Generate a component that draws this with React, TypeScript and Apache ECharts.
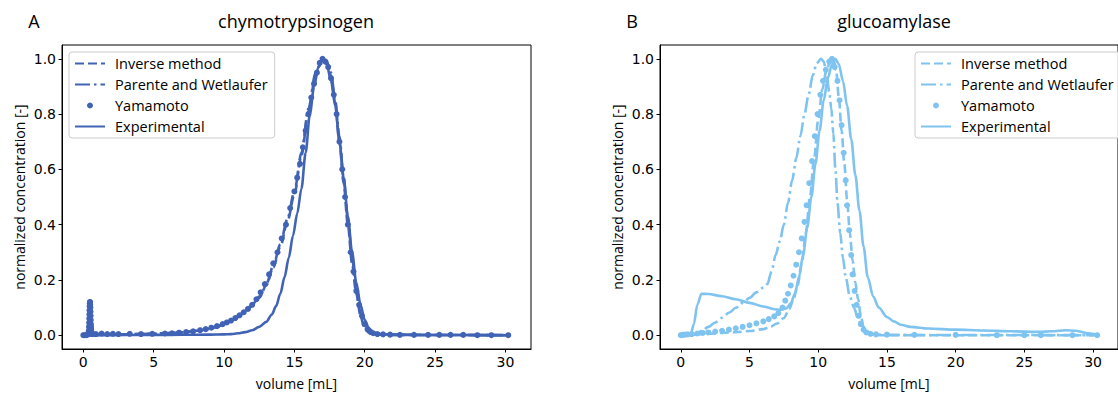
import React, { useEffect, useRef } from "react";
import * as echarts from "echarts";

type Pt = [number, number];

// ---------- Panel A: chymotrypsinogen ----------
const chymoInverse: Pt[] = [
  [0, 0], [1, 0.001], [2, 0.002], [3, 0.003], [4, 0.004], [5, 0.005], [6, 0.007], [7, 0.01], [8, 0.015],
  [9, 0.023], [9.5, 0.03], [10, 0.04], [10.5, 0.052], [11, 0.066], [11.5, 0.084], [12, 0.106], [12.5, 0.135],
  [13, 0.18], [13.5, 0.245], [14, 0.32], [14.5, 0.41], [15, 0.51], [15.5, 0.65], [16, 0.81], [16.5, 0.94],
  [17, 1.0], [17.3, 0.99], [17.6, 0.94], [17.9, 0.84], [18.2, 0.7], [18.5, 0.55], [18.8, 0.4], [19.1, 0.26],
  [19.4, 0.15], [19.7, 0.07], [19.95, 0.03], [20.2, 0.012], [20.5, 0.005], [21, 0.002], [22, 0.001], [30.2, 0],
];
const chymoParente: Pt[] = [
  [0, 0], [1, 0.001], [2, 0.002], [3, 0.003], [4, 0.004], [5, 0.006], [6, 0.008], [7, 0.011], [8, 0.016],
  [9, 0.024], [9.5, 0.031], [10, 0.041], [10.5, 0.054], [11, 0.069], [11.5, 0.088], [12, 0.11], [12.5, 0.14],
  [13, 0.185], [13.5, 0.25], [14, 0.33], [14.5, 0.42], [15, 0.52], [15.5, 0.66], [16, 0.82], [16.5, 0.95],
  [17, 1.0], [17.3, 0.99], [17.6, 0.95], [17.9, 0.85], [18.2, 0.72], [18.5, 0.57], [18.8, 0.42], [19.1, 0.28],
  [19.4, 0.16], [19.7, 0.08], [20.0, 0.035], [20.3, 0.015], [20.6, 0.006], [21, 0.002], [22, 0.001], [30.2, 0],
];
const chymoYamamoto: Pt[] = [
  [0.0, 0.0], [0.1, 0.0], [0.2, 0.0], [0.3, 0.002], [0.38, 0.015], [0.4, 0.03], [0.41, 0.045], [0.42, 0.06],
  [0.43, 0.075], [0.44, 0.09], [0.45, 0.105], [0.46, 0.115], [0.47, 0.12], [0.48, 0.12], [0.49, 0.11],
  [0.5, 0.1], [0.51, 0.085], [0.52, 0.07], [0.53, 0.055], [0.54, 0.04], [0.55, 0.03], [0.56, 0.02],
  [0.58, 0.01], [0.6, 0.005], [0.7, 0.004], [0.9, 0.004],
  [1.3, 0.006], [1.7, 0.004], [2.1, 0.005], [2.5, 0.004], [3.3, 0.005], [4.1, 0.004], [4.9, 0.005], [5.8, 0.006],
  [6.3, 0.007], [6.8, 0.009], [7.3, 0.011], [7.8, 0.014], [8.3, 0.018], [8.7, 0.022], [9.1, 0.027], [9.5, 0.033],
  [9.9, 0.04], [10.2, 0.046], [10.5, 0.053], [10.8, 0.062], [11.1, 0.072], [11.4, 0.083], [11.7, 0.095],
  [12.0, 0.11], [12.3, 0.13], [12.6, 0.155], [12.9, 0.185], [13.2, 0.22], [13.5, 0.26], [13.8, 0.3],
  [14.1, 0.35], [14.4, 0.4], [14.7, 0.46], [15.0, 0.52], [15.2, 0.57], [15.4, 0.62], [15.6, 0.68], [15.8, 0.74],
  [16.0, 0.8], [16.2, 0.86], [16.4, 0.91], [16.6, 0.95], [16.8, 0.985], [17.0, 1.0], [17.2, 0.99], [17.4, 0.97],
  [17.6, 0.93], [17.8, 0.87], [18.0, 0.8], [18.2, 0.7], [18.4, 0.6], [18.6, 0.5], [18.8, 0.4], [19.0, 0.3],
  [19.2, 0.23], [19.4, 0.16], [19.6, 0.11], [19.8, 0.07], [20.0, 0.04], [20.2, 0.022], [20.4, 0.012],
  [20.6, 0.007], [20.9, 0.004], [21.3, 0.003], [21.8, 0.002], [22.5, 0.001], [23.5, 0.001], [24.5, 0.001],
  [25.3, 0.001], [26.1, 0.001], [27.0, 0.001], [28.0, 0], [29.0, 0], [30.2, 0],
];
const chymoExperimental: Pt[] = [
  [0, 0], [1, 0], [3, 0.0005], [5, 0.001], [7, 0.0015], [9, 0.002], [10, 0.003], [10.5, 0.004], [11, 0.007],
  [11.5, 0.011], [12, 0.018], [12.5, 0.03], [13, 0.048], [13.4, 0.075], [13.7, 0.105], [14.0, 0.15], [14.3, 0.21],
  [14.6, 0.28], [14.9, 0.36], [15.2, 0.44], [15.5, 0.53], [15.8, 0.66], [16.1, 0.8], [16.4, 0.9], [16.7, 0.97],
  [17.0, 1.0], [17.3, 0.98], [17.6, 0.92], [17.9, 0.83], [18.2, 0.7], [18.5, 0.57], [18.8, 0.43], [19.1, 0.3],
  [19.4, 0.19], [19.7, 0.11], [20.0, 0.055], [20.3, 0.025], [20.6, 0.01], [21, 0.004], [22, 0.002], [24, 0.001],
  [27, 0.0005], [30.2, 0],
];

// ---------- Panel B: glucoamylase ----------
const glucoInverse: Pt[] = [
  [0, 0], [1, 0.002], [2, 0.005], [3, 0.008], [4, 0.011], [5, 0.015], [6, 0.022], [6.5, 0.03], [7, 0.042],
  [7.5, 0.062], [7.9, 0.095], [8.2, 0.13], [8.5, 0.18], [8.8, 0.26], [9.1, 0.37], [9.4, 0.5], [9.7, 0.64],
  [10.0, 0.78], [10.3, 0.89], [10.6, 0.96], [10.9, 0.995], [11.1, 1.0], [11.3, 0.96], [11.5, 0.86], [11.7, 0.74],
  [11.9, 0.62], [12.1, 0.49], [12.3, 0.37], [12.5, 0.27], [12.7, 0.19], [12.9, 0.13], [13.1, 0.07], [13.3, 0.03],
  [13.5, 0.01], [13.8, 0.002], [14.5, 0], [30.3, 0],
];
const glucoParente: Pt[] = [
  [0, 0], [0.5, 0.001], [1, 0.004], [1.5, 0.015], [2, 0.03], [2.5, 0.046], [3, 0.063], [3.5, 0.081], [4, 0.099],
  [4.5, 0.117], [5, 0.135], [5.5, 0.155], [6, 0.172], [6.3, 0.185], [6.6, 0.23], [6.9, 0.29], [7.2, 0.34],
  [7.5, 0.4], [7.8, 0.48], [8.1, 0.56], [8.4, 0.64], [8.7, 0.72], [9.0, 0.8], [9.3, 0.87], [9.6, 0.94],
  [9.9, 0.985], [10.2, 1.0], [10.4, 0.99], [10.6, 0.95], [10.8, 0.88], [10.95, 0.82], [11.1, 0.73], [11.25, 0.6],
  [11.4, 0.48], [11.6, 0.37], [11.8, 0.28], [12.0, 0.21], [12.3, 0.14], [12.6, 0.1], [12.9, 0.06], [13.2, 0.03],
  [13.5, 0.012], [13.8, 0.004], [15, 0.001], [30.3, 0],
];
const glucoYamamoto: Pt[] = [
  [0, 0], [0.15, 0.001], [0.3, 0.002], [0.5, 0.003], [0.8, 0.004], [1.2, 0.006], [1.6, 0.008], [2.0, 0.01],
  [2.5, 0.013], [3.0, 0.016], [3.5, 0.02], [4.0, 0.025], [4.5, 0.03], [5.0, 0.036], [5.5, 0.043], [6.0, 0.05],
  [6.4, 0.058], [6.8, 0.068], [7.1, 0.08], [7.4, 0.1], [7.6, 0.125], [7.8, 0.15], [8.0, 0.18], [8.2, 0.215],
  [8.4, 0.255], [8.6, 0.3], [8.8, 0.35], [9.0, 0.41], [9.15, 0.47], [9.35, 0.55], [9.55, 0.63], [9.75, 0.72],
  [9.95, 0.8], [10.15, 0.87], [10.35, 0.92], [10.55, 0.96], [10.8, 0.99], [11.0, 1.0], [11.2, 0.97],
  [11.4, 0.92], [11.55, 0.85], [11.7, 0.76], [11.85, 0.66], [12.0, 0.56], [12.1, 0.47], [12.25, 0.38],
  [12.4, 0.29], [12.5, 0.22], [12.65, 0.16], [12.8, 0.11], [12.95, 0.07], [13.1, 0.04], [13.3, 0.02],
  [13.5, 0.01], [13.8, 0.005], [14.2, 0.003], [15.0, 0.002], [17.0, 0.001], [20.0, 0.001], [23.0, 0],
  [25.0, 0], [26.2, 0], [28.5, 0], [30.3, 0],
];
const glucoExperimental: Pt[] = [
  [0, 0], [0.7, 0], [0.95, 0.04], [1.2, 0.11], [1.5, 0.15], [2, 0.149], [3, 0.141], [4, 0.13], [5, 0.117],
  [6, 0.104], [6.8, 0.094], [7.3, 0.092], [7.7, 0.098], [8.0, 0.115], [8.3, 0.15], [8.6, 0.21], [8.9, 0.29],
  [9.2, 0.39], [9.5, 0.5], [9.8, 0.62], [10.1, 0.74], [10.4, 0.85], [10.7, 0.93], [11.0, 0.98], [11.25, 1.0],
  [11.5, 0.98], [11.8, 0.92], [12.1, 0.83], [12.4, 0.71], [12.7, 0.58], [13.0, 0.45], [13.3, 0.32], [13.6, 0.21],
  [14.0, 0.14], [14.4, 0.1], [15.0, 0.066], [15.5, 0.05], [16.0, 0.038], [16.7, 0.03], [18, 0.024], [20, 0.02],
  [22, 0.017], [24, 0.014], [26, 0.012], [27, 0.014], [28, 0.018], [28.7, 0.016], [29.5, 0.008], [30.3, 0.002],
];

const seriesNames = ["Inverse method", "Parente and Wetlaufer", "Yamamoto", "Experimental"];
const panelTitles = ["chymotrypsinogen", "glucoamylase"];
const panelLetters = ["A", "B"];
const xTicks = [0, 5, 10, 15, 20, 25, 30];
const yTicks = [0, 0.2, 0.4, 0.6, 0.8, 1.0];

const COLOR_A = "#4163b5";
const COLOR_B = "#7fc3f0";
const LABEL_FONT = "Open Sans";
const TICK_FONT = "DejaVu Sans";
const SUFFIX_B = " \u00a0(B)";

function App() {
  const ref = useRef<HTMLDivElement>(null);

  useEffect(() => {
    document.body.style.margin = "0";
    const chart = echarts.init(ref.current!, null, { renderer: "svg" });

    const grids = [
      { left: 62, top: 45, width: 469, height: 305 },
      { left: 660, top: 45, width: 469, height: 305 },
    ];

    const xAxes = grids.map((_, i) => ({
      type: "value",
      gridIndex: i,
      min: -1.515,
      max: 31.815,
      splitLine: { show: false },
      axisLine: { show: true, onZero: false, lineStyle: { color: "#000", width: 1 } },
      axisTick: { show: true, length: 3.5, customValues: xTicks, lineStyle: { color: "#000", width: 1 } },
      axisLabel: {
        customValues: xTicks,
        margin: 6,
        fontFamily: TICK_FONT,
        fontSize: 14,
        color: "#000",
        formatter: (v: number) => String(v),
      },
      name: "volume [mL]",
      nameLocation: "middle",
      nameGap: 27,
      nameTextStyle: { fontFamily: LABEL_FONT, fontSize: 14, color: "#000" },
    }));

    const yAxes = grids.map((_, i) => ({
      type: "value",
      gridIndex: i,
      min: -0.05,
      max: 1.05,
      splitLine: { show: false },
      axisLine: { show: true, onZero: false, lineStyle: { color: "#000", width: 1 } },
      axisTick: { show: true, length: 3.5, customValues: yTicks, lineStyle: { color: "#000", width: 1 } },
      axisLabel: {
        customValues: yTicks,
        margin: 6,
        fontFamily: TICK_FONT,
        fontSize: 14,
        color: "#000",
        formatter: (v: number) => v.toFixed(1),
      },
      name: "normalized concentration [-]",
      nameLocation: "middle",
      nameGap: 36,
      nameTextStyle: { fontFamily: LABEL_FONT, fontSize: 14, color: "#000" },
    }));

    const panels = [
      { color: COLOR_A, suffix: "", data: [chymoInverse, chymoParente, chymoYamamoto, chymoExperimental] },
      { color: COLOR_B, suffix: SUFFIX_B, data: [glucoInverse, glucoParente, glucoYamamoto, glucoExperimental] },
    ];

    const LW = 2.6;
    const series: any[] = [];
    panels.forEach((p, i) => {
      const [inv, par, yam, exp] = p.data;
      series.push({
        type: "line", name: seriesNames[0] + p.suffix, xAxisIndex: i, yAxisIndex: i, data: inv,
        symbol: "none", smooth: 0.3, smoothMonotone: "x",
        lineStyle: { color: p.color, width: LW, type: [9, 4] }, itemStyle: { color: p.color },
      });
      series.push({
        type: "line", name: seriesNames[1] + p.suffix, xAxisIndex: i, yAxisIndex: i, data: par,
        symbol: "none", smooth: 0.3, smoothMonotone: "x",
        lineStyle: { color: p.color, width: LW, type: [15, 4, 2.5, 4] }, itemStyle: { color: p.color },
      });
      series.push({
        type: "scatter", name: seriesNames[2] + p.suffix, xAxisIndex: i, yAxisIndex: i, data: yam,
        symbol: "circle", symbolSize: 6, itemStyle: { color: p.color, opacity: 1 },
      });
      series.push({
        type: "line", name: seriesNames[3] + p.suffix, xAxisIndex: i, yAxisIndex: i, data: exp,
        symbol: "none", smooth: 0.3, smoothMonotone: "x",
        lineStyle: { color: p.color, width: LW, type: "solid" }, itemStyle: { color: p.color },
      });
    });

    const legendData = (suffix: string) =>
      seriesNames.map((n, k) =>
        k === 2
          ? { name: n + suffix }
          : { name: n + suffix, itemStyle: { color: "rgba(0,0,0,0)", borderWidth: 0 } }
      );

    const legendBase = {
      orient: "vertical",
      top: 52,
      itemWidth: 30,
      itemHeight: 6,
      itemGap: 6,
      padding: [4, 7, 4, 5],
      backgroundColor: "rgba(255,255,255,0.8)",
      borderColor: "#cccccc",
      borderWidth: 1,
      borderRadius: 3,
      selectedMode: false,
      textStyle: { fontFamily: LABEL_FONT, fontSize: 14.5, color: "#000", padding: [0, 0, 0, 5] },
    };

    const titleStyle = { fontFamily: LABEL_FONT, fontSize: 18, fontWeight: "normal", color: "#000" };

    chart.setOption({
      animation: false,
      title: [
        { text: panelLetters[0], left: 34, top: 12, textAlign: "center", padding: 0, textStyle: titleStyle },
        { text: panelTitles[0], left: 296, top: 12, textAlign: "center", padding: 0, textStyle: titleStyle },
        { text: panelLetters[1], left: 632, top: 12, textAlign: "center", padding: 0, textStyle: titleStyle },
        { text: panelTitles[1], left: 894, top: 12, textAlign: "center", padding: 0, textStyle: titleStyle },
      ],
      grid: grids.map((g) => ({ ...g, show: true, borderColor: "#000", borderWidth: 1, containLabel: false })),
      xAxis: xAxes,
      yAxis: yAxes,
      legend: [
        { ...legendBase, left: 69, data: legendData("") },
        { ...legendBase, left: 915, data: legendData(SUFFIX_B), formatter: (n: string) => n.replace(SUFFIX_B, "") },
      ],
      series,
    });

    return () => chart.dispose();
  }, []);

  return <div ref={ref} style={{ width: 1118, height: 395 }} />;
}

export default App;
